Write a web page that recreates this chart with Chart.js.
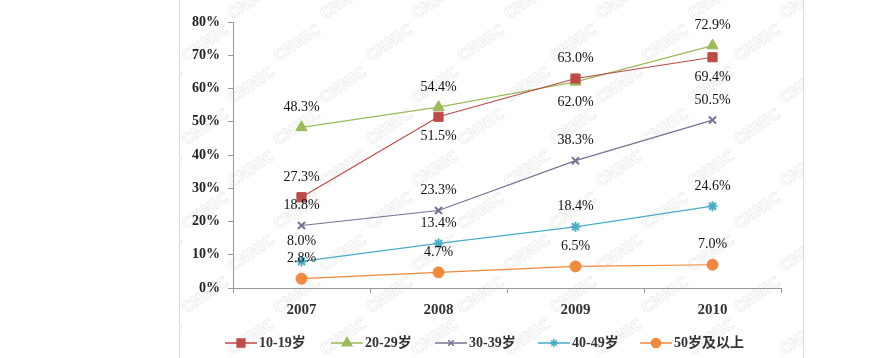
<!DOCTYPE html>
<html><head><meta charset="utf-8">
<script src="https://cdn.jsdelivr.net/npm/chart.js@4/dist/chart.umd.min.js"></script>
<style>html,body{margin:0;padding:0;background:#fff}#wrap{width:893px;height:358px;position:relative}</style>
</head><body><div id="wrap"><canvas id="c" width="893" height="358"></canvas></div>
<script>
const categories = ['2007','2008','2009','2010'];
const seriesNames = ['10-19岁','20-29岁','30-39岁','40-49岁','50岁及以上'];
const s1019 = [27.3, 51.5, 63.0, 69.4];
const s2029 = [48.3, 54.4, 62.0, 72.9];
const s3039 = [18.8, 23.3, 38.3, 50.5];
const s4049 = [8.0, 13.4, 18.4, 24.6];
const s50 = [2.8, 4.7, 6.5, 7.0];
const yTicks = [0,10,20,30,40,50,60,70,80];
// label placement: 'a' above, 'b' below
const pos1019 = ['a','b','a','b'];
const pos2029 = ['a','a','b','a'];
const pos3039 = ['a','a','a','a'];
const pos4049 = ['a','a','a','a'];
const pos50 = ['a','a','a','a'];

const colors = ['#BE4B48','#9BBB59','#7A7094','#4BACC6','#F0883E'];
const styles = ['rect','triangle','crossRot','star','circle'];
const radii = [6.5,6.5,5,5,5.5];
const vals = [s1019,s2029,s3039,s4049,s50];
const poss = [pos1019,pos2029,pos3039,pos4049,pos50];

const datasets = vals.map((v,i)=>({
  label: seriesNames[i], data: v, borderColor: colors[i], backgroundColor: colors[i],
  borderWidth: 1.2, pointStyle: styles[i], pointRadius: radii[i],
  pointBorderWidth: (styles[i]==='crossRot'||styles[i]==='star')?2:1,
  pointBackgroundColor: colors[i], pointBorderColor: colors[i], tension: 0, fill:false,
  labelPos: poss[i]
}));

const watermark = {
  id:'watermark',
  beforeDraw(chart){
    const ctx = chart.ctx; ctx.save();
    ctx.fillStyle = '#fff'; ctx.fillRect(0,0,chart.width,chart.height);
    ctx.beginPath(); ctx.rect(180,0,623,chart.height); ctx.clip();
    ctx.font = 'bold 15px "DejaVu Sans"';
    ctx.strokeStyle = 'rgba(0,0,0,0.08)'; ctx.lineWidth = 1;
    for (let r=-2; r<14; r++){
      for (let c=0; c<12; c++){
        const x = 140 + c*92 + (r%2)*46, y = r*42 + 20;
        ctx.save(); ctx.translate(x,y); ctx.rotate(-0.6);
        ctx.strokeText('CNNIC',0,0); ctx.restore();
      }
    }
    ctx.restore();
    ctx.save();
    ctx.strokeStyle = '#dadada'; ctx.lineWidth = 1;
    ctx.beginPath(); ctx.moveTo(179.5,0); ctx.lineTo(179.5,chart.height);
    ctx.moveTo(803.5,0); ctx.lineTo(803.5,chart.height); ctx.stroke();
    ctx.restore();
  }
};

const dataLabels = {
  id:'dataLabels',
  afterDatasetsDraw(chart){
    const ctx = chart.ctx; ctx.save();
    ctx.font = '14px "Liberation Serif"'; ctx.fillStyle = '#111';
    ctx.textAlign='center'; ctx.textBaseline='middle';
    chart.data.datasets.forEach((ds,i)=>{
      const meta = chart.getDatasetMeta(i);
      meta.data.forEach((pt,j)=>{
        const dy = ds.labelPos[j]==='a' ? -20 : 20;
        ctx.fillText(ds.data[j].toFixed(1)+'%', pt.x, pt.y+dy);
      });
    });
    ctx.restore();
  }
};

const legendPlugin = {
  id:'customLegend',
  afterDraw(chart){
    const ctx = chart.ctx; ctx.save();
    const y = 343;
    const starts = [225,331,435,538,640];
    ctx.textBaseline='middle'; ctx.textAlign='left';
    chart.data.datasets.forEach((ds,i)=>{
      const x0 = starts[i];
      ctx.strokeStyle = ds.borderColor; ctx.lineWidth = 1.5;
      ctx.beginPath(); ctx.moveTo(x0,y); ctx.lineTo(x0+32,y); ctx.stroke();
      ctx.fillStyle = ds.backgroundColor; ctx.strokeStyle = ds.borderColor;
      Chart.helpers.drawPoint(ctx,{pointStyle:ds.pointStyle,radius:ds.pointRadius-1,borderWidth:ds.pointBorderWidth,rotation:0},x0+16,y);
      ctx.fillStyle = '#333';
      ctx.font = 'bold 14px "Liberation Serif", "Noto Sans CJK SC"';
      ctx.fillText(ds.label, x0+34, y);
    });
    ctx.restore();
  }
};

new Chart(document.getElementById('c'), {
  type:'line',
  data:{labels:categories, datasets},
  options:{
    responsive:false, animation:false, devicePixelRatio:1,
    layout:{padding:{left:0, right:112, top:22, bottom:0}},
    plugins:{legend:{display:false}, tooltip:{enabled:false}},
    scales:{
      x:{
        offset:true,
        grid:{display:true, offset:true, drawOnChartArea:false, drawTicks:true, tickLength:5, color:'#999'},
        border:{display:true, color:'#999', width:1},
        ticks:{font:{family:'"Liberation Serif"', size:15, weight:'bold'}, color:'#333', padding:8},
        afterFit(s){ s.height = 70; }
      },
      y:{
        min:0, max:80,
        afterBuildTicks(s){ s.ticks = yTicks.map(v=>({value:v})); },
        grid:{display:true, drawOnChartArea:false, drawTicks:true, tickLength:5, color:'#999'},
        border:{display:true, color:'#999', width:1},
        ticks:{font:{family:'"Liberation Serif"', size:14, weight:'bold'}, color:'#222', padding:8, callback:v=>v+'%'},
        afterFit(s){ s.width = 233; }
      }
    }
  },
  plugins:[watermark, dataLabels, legendPlugin]
});
</script></body></html>
